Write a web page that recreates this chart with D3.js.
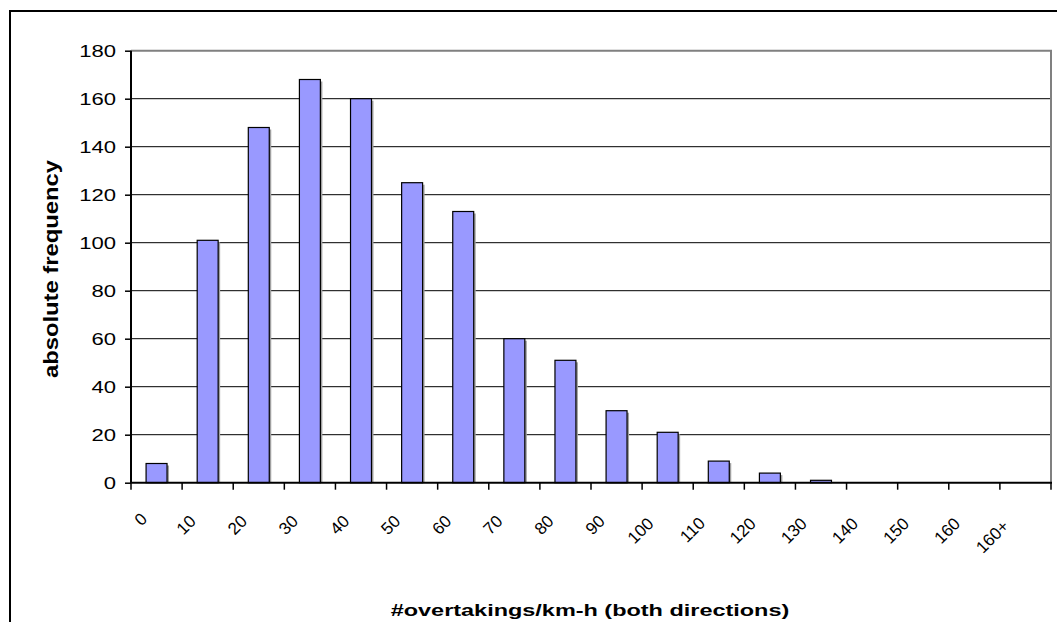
<!DOCTYPE html>
<html><head><meta charset="utf-8">
<script src="https://cdn.jsdelivr.net/npm/d3@7"></script>
<style>body{margin:0;background:#fff;}svg{display:block;}text{font-family:"Liberation Sans",Arial,sans-serif;fill:#000;}</style>
</head><body>
<svg id="c" width="1057" height="622"></svg>
<script>
const categories = ["0","10","20","30","40","50","60","70","80","90","100","110","120","130","140","150","160","160+"];
const frequencies = [8,101,148,168,160,125,113,60,51,30,21,9,4,1,0,0,0,0];
const yTicks = [0,20,40,60,80,100,120,140,160,180];
const xTitle = "#overtakings/km-h (both directions)";
const yTitle = "absolute frequency";

const svg = d3.select("#c");
const L = 131, R = 1051, T = 50.7, B = 482.7;
const x = d3.scaleBand().domain(categories).range([L, R]).paddingInner(0.59).paddingOuter(0.295);
const xb = d3.scaleBand().domain(categories).range([L, R]);
const y = d3.scaleLinear().domain([0, 180]).range([B, T]);

// outer frame
svg.append("rect").attr("x",10).attr("y",11).attr("width",1100).attr("height",700)
  .attr("fill","none").attr("stroke","#000").attr("stroke-width",2);

// gridlines
svg.append("g").selectAll("line").data(yTicks.filter(d=>d>0 && d<180)).join("line")
  .attr("x1",L).attr("x2",R).attr("y1",d=>y(d)).attr("y2",d=>y(d))
  .attr("stroke","#000").attr("stroke-width",1);
// plot border top/right gray
svg.append("path").attr("d",`M${L},${y(180)}H${R}V${B}`).attr("fill","none").attr("stroke","#808080").attr("stroke-width",2);

const barData = categories.map((c,i)=>({c,v:frequencies[i]})).filter(d=>d.v>0);
// bars shadow
svg.append("g").selectAll("rect").data(barData).join("rect")
  .attr("x",d=>x(d.c)+2).attr("y",d=>y(d.v)+2).attr("width",x.bandwidth()).attr("height",d=>B-y(d.v)-2)
  .attr("fill","#a0a0a0");
svg.append("g").selectAll("rect").data(barData).join("rect")
  .attr("x",d=>x(d.c)).attr("y",d=>y(d.v)).attr("width",x.bandwidth()).attr("height",d=>B-y(d.v))
  .attr("fill","#9999FF").attr("stroke","#000").attr("stroke-width",1.2);

// y axis
const ya = svg.append("g").attr("transform",`translate(${L},0)`)
  .call(d3.axisLeft(y).tickValues(yTicks).tickSize(6).tickPadding(0).tickFormat(d3.format("d")));
ya.select(".domain").attr("stroke","#000").attr("stroke-width",2).attr("d",`M0,${T}V${B}`);
ya.selectAll(".tick line").attr("stroke","#000").attr("stroke-width",1.5);
ya.selectAll(".tick text").attr("x",null).attr("dy",null)
  .attr("font-size",17).attr("text-anchor","end").attr("dominant-baseline","central")
  .attr("transform","translate(-15,0) scale(1.3,1)");

// x axis (ticks at band boundaries)
svg.append("line").attr("x1",L-1).attr("x2",R+1).attr("y1",B).attr("y2",B).attr("stroke","#000").attr("stroke-width",2);
svg.append("g").selectAll("line").data(categories.concat(["end"])).join("line")
  .attr("x1",(d,i)=>L+i*xb.step()).attr("x2",(d,i)=>L+i*xb.step())
  .attr("y1",B).attr("y2",B+7).attr("stroke","#000").attr("stroke-width",1.5);
svg.append("g").selectAll("text").data(categories).join("text")
  .attr("transform",d=>`translate(${xb(d)+xb.bandwidth()/2-6},${B+35}) rotate(-45)`)
  .attr("text-anchor","end").attr("font-size",17).text(d=>d)
  .each(function(){ const l=this.getComputedTextLength(); d3.select(this).attr("x",-0.35*l); });

// titles
svg.append("text").attr("transform",`translate(590,616) scale(1.38,1)`).attr("text-anchor","middle")
  .attr("font-size",17).attr("font-weight","bold").text(xTitle);
svg.append("text").attr("transform",`translate(58,269) rotate(-90) scale(1.19,1)`).attr("text-anchor","middle")
  .attr("font-size",20).attr("font-weight","bold").text(yTitle);
</script>
</body></html>
